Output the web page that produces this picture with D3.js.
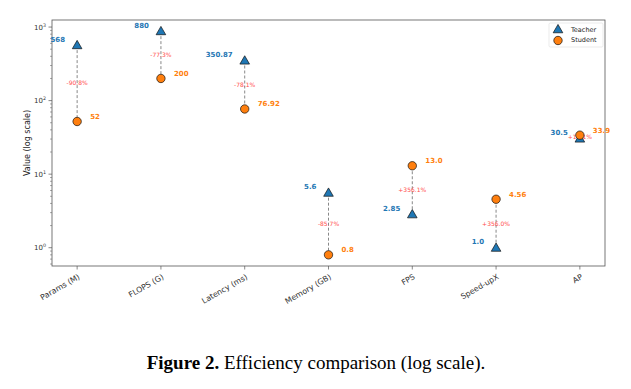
<!DOCTYPE html>
<html>
<head>
<meta charset="utf-8">
<script src="https://cdn.jsdelivr.net/npm/d3@7"></script>
<style>
  body { margin: 0; background: #fff; }
  text { font-family: "DejaVu Sans", sans-serif; }
</style>
</head>
<body>
<svg width="631" height="389"></svg>
<script>
// chart data
var categories = ["Params (M)", "FLOPS (G)", "Latency (ms)", "Memory (GB)", "FPS", "Speed-upX", "AP"];
var teacher = [568, 880, 350.87, 5.6, 2.85, 1.0, 30.5];
var student = [52, 200, 76.92, 0.8, 13.0, 4.56, 33.9];
var teacherLabels = ["568", "880", "350.87", "5.6", "2.85", "1.0", "30.5"];
var studentLabels = ["52", "200", "76.92", "0.8", "13.0", "4.56", "33.9"];
var pctLabels = ["-90.8%", "-77.3%", "-78.1%", "-85.7%", "+356.1%", "+356.0%", "+11.1%"];
var yTicks = [1, 10, 100, 1000];
var yTickExp = ["0", "1", "2", "3"];

var svg = d3.select("svg");
var pLeft = 52, pRight = 605, pTop = 20, pBottom = 266;

var x = d3.scaleLinear().domain([-0.3, 6.3]).range([pLeft, pRight]);
var y = d3.scaleLog().domain([0.564, 1247]).range([pBottom, pTop]);

var blue = "#1f77b4", orange = "#ff7f0e";

// frame
svg.append("rect")
    .attr("x", pLeft).attr("y", pTop)
    .attr("width", pRight - pLeft).attr("height", pBottom - pTop)
    .attr("fill", "none").attr("stroke", "#555").attr("stroke-width", 0.8);

// y axis ticks: major with 10^n labels, minor in between
var minor = [];
[0.1, 1, 10, 100, 1000].forEach(function(d) {
    for (var k = 2; k < 10; k++) {
        var v = d * k;
        if (v >= y.domain()[0] && v <= y.domain()[1]) minor.push(v);
    }
});
svg.selectAll(".minor").data(minor).enter().append("line")
    .attr("x1", pLeft - 2).attr("x2", pLeft)
    .attr("y1", function(d) { return y(d); }).attr("y2", function(d) { return y(d); })
    .attr("stroke", "#555").attr("stroke-width", 0.5);

var yt = svg.selectAll(".ytick").data(yTicks).enter().append("g")
    .attr("transform", function(d) { return "translate(0," + y(d) + ")"; });
yt.append("line").attr("x1", pLeft - 3.5).attr("x2", pLeft).attr("stroke", "#555").attr("stroke-width", 0.7);
var ytl = yt.append("text")
    .attr("x", pLeft - 6).attr("y", 2.5)
    .attr("text-anchor", "end").attr("font-size", 7).attr("fill", "#333");
ytl.append("tspan").text("10");
ytl.append("tspan").attr("dy", -3).attr("font-size", 4.8).text(function(d, i) { return yTickExp[i]; });

svg.append("text")
    .attr("transform", "translate(30," + ((pTop + pBottom) / 2) + ") rotate(-90)")
    .attr("text-anchor", "middle").attr("font-size", 8).attr("fill", "#222")
    .text("Value (log scale)");

// x axis ticks
var xt = svg.selectAll(".xtick").data(categories).enter().append("g")
    .attr("transform", function(d, i) { return "translate(" + x(i) + "," + pBottom + ")"; });
xt.append("line").attr("y2", 3.5).attr("stroke", "#555").attr("stroke-width", 0.7);
xt.append("text")
    .attr("transform", "translate(2,10) rotate(-30)")
    .attr("text-anchor", "end").attr("dy", "0.35em")
    .attr("font-size", 7.8).attr("fill", "#333")
    .text(function(d) { return d; });

// dashed connectors
svg.selectAll(".conn").data(categories).enter().append("line")
    .attr("x1", function(d, i) { return x(i); }).attr("x2", function(d, i) { return x(i); })
    .attr("y1", function(d, i) { return y(teacher[i]); })
    .attr("y2", function(d, i) { return y(student[i]); })
    .attr("stroke", "#888").attr("stroke-width", 1).attr("stroke-dasharray", "3,2");

// percent change labels at log midpoint
svg.selectAll(".pct").data(pctLabels).enter().append("text")
    .attr("x", function(d, i) { return x(i); })
    .attr("y", function(d, i) { return (y(teacher[i]) + y(student[i])) / 2; })
    .attr("dy", "0.35em").attr("text-anchor", "middle")
    .attr("font-size", 6).attr("fill", "#ff4d4d")
    .text(function(d) { return d; });

// teacher markers (triangles)
var tri = d3.symbol().type(d3.symbolTriangle).size(40);
svg.selectAll(".teacher").data(teacher).enter().append("path")
    .attr("d", tri)
    .attr("transform", function(d, i) { return "translate(" + x(i) + "," + (y(d) + 0.8) + ")"; })
    .attr("fill", blue).attr("stroke", "#111").attr("stroke-width", 0.7);

// student markers (circles)
svg.selectAll(".student").data(student).enter().append("circle")
    .attr("cx", function(d, i) { return x(i); })
    .attr("cy", function(d) { return y(d); })
    .attr("r", 4.2)
    .attr("fill", orange).attr("stroke", "#111").attr("stroke-width", 0.7);

// value labels
svg.selectAll(".tlab").data(teacherLabels).enter().append("text")
    .attr("x", function(d, i) { return x(i) - 12; })
    .attr("y", function(d, i) { return y(teacher[i]) - 3.5; })
    .attr("text-anchor", "end").attr("font-size", 7).attr("font-weight", "bold")
    .attr("fill", blue)
    .text(function(d) { return d; });

svg.selectAll(".slab").data(studentLabels).enter().append("text")
    .attr("x", function(d, i) { return x(i) + 13; })
    .attr("y", function(d, i) { return y(student[i]) - 2.5; })
    .attr("text-anchor", "start").attr("font-size", 7).attr("font-weight", "bold")
    .attr("fill", orange)
    .text(function(d) { return d; });

// legend
var lg = svg.append("g").attr("transform", "translate(549,23)");
lg.append("rect").attr("width", 54).attr("height", 24).attr("rx", 1.5)
    .attr("fill", "#fff").attr("fill-opacity", 0.8).attr("stroke", "#ddd").attr("stroke-width", 0.6);
lg.append("path").attr("d", tri).attr("transform", "translate(9,7)")
    .attr("fill", blue).attr("stroke", "#111").attr("stroke-width", 0.7);
lg.append("circle").attr("cx", 9).attr("cy", 17.5).attr("r", 4.2)
    .attr("fill", orange).attr("stroke", "#111").attr("stroke-width", 0.7);
lg.append("text").attr("x", 22).attr("y", 8.5).attr("font-size", 6.5).attr("fill", "#222").text("Teacher");
lg.append("text").attr("x", 22).attr("y", 19).attr("font-size", 6.5).attr("fill", "#222").text("Student");

// caption
var cap = svg.append("text")
    .attr("x", 316).attr("y", 369)
    .attr("text-anchor", "middle")
    .style("font-family", "'Liberation Serif', 'Times New Roman', serif")
    .attr("font-size", 19).attr("fill", "#000");
cap.append("tspan").attr("font-weight", "bold").text("Figure 2.");
cap.append("tspan").text(" Efficiency comparison (log scale).");
</script>
</body>
</html>
